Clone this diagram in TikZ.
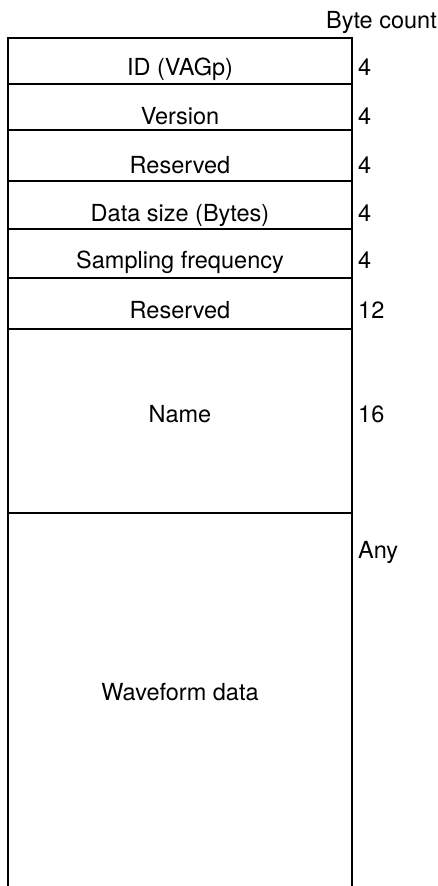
\documentclass[tikz,border=0pt]{standalone}
\usepackage{fontspec}
\setmainfont{TeX Gyre Heros}
\begin{document}
\begin{tikzpicture}[x=1pt, y=-1pt, font=\fontsize{23.5}{28}\selectfont,
  field/.style={draw, line width=1.9pt, minimum width=344pt, inner sep=0pt},
  txt/.style={anchor=base, inner sep=0pt}]
  \useasboundingbox (0,0) rectangle (437,886);
  % header
  \node[txt, anchor=base east] (bytecount) at (437,28) {Byte count};
  % fields: index/top/bottom/baseline/label/count/count baseline
  \foreach \i/\top/\bot/\base/\lbl/\cnt/\cbase in {
      1/38/84/75/ID (VAGp)/4/75,
      2/84/130/124/Version/4/124,
      3/130/181/173/Reserved/4/173,
      4/181/229/221/Data size (Bytes)/4/221,
      5/229/278/268/Sampling frequency/4/268,
      6/278/329/318/Reserved/12/318,
      7/329/513/422/Name/16/422,
      8/513/905/700/Waveform data/Any/558} {
    \node[field, minimum height={(\bot-\top)*1pt}] (field\i) at (180,{(\top+\bot)/2}) {};
    \node[txt] (label\i) at (180,\base) {\lbl};
    \node[txt, anchor=base west] (count\i) at (358,\cbase) {\cnt};
  }
\end{tikzpicture}
\end{document}
